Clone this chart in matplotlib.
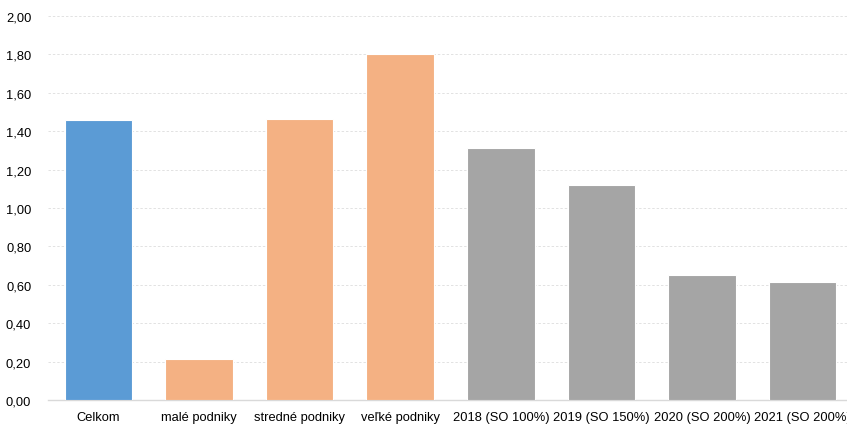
import matplotlib
matplotlib.use("Agg")
import matplotlib.pyplot as plt
from matplotlib.ticker import FuncFormatter, MultipleLocator

plt.rcParams['font.family'] = ['Liberation Sans', 'DejaVu Sans']

categories = ["Celkom", "malé podniky", "stredné podniky", "veľké podniky",
              "2018 (SO 100%)", "2019 (SO 150%)", "2020 (SO 200%)", "2021 (SO 200%)"]
values = [1.46, 0.215, 1.465, 1.80, 1.31, 1.12, 0.65, 0.615]
colors = ["#5B9BD5", "#F4B183", "#F4B183", "#F4B183",
          "#A5A5A5", "#A5A5A5", "#A5A5A5", "#A5A5A5"]

fig = plt.figure(figsize=(8.47, 4.27), dpi=100)
ax = fig.add_axes([48 / 847, 26 / 427, 805 / 847, 384 / 427])

x = range(len(categories))
ax.bar(x, values, width=0.67, color=colors, edgecolor="white", linewidth=0.8, zorder=3)

ax.set_xlim(-0.5, len(categories) - 0.5)
ax.set_ylim(0, 2.0)
ax.yaxis.set_major_locator(MultipleLocator(0.2))
ax.yaxis.set_major_formatter(FuncFormatter(lambda v, p: f"{v:.2f}".replace(".", ",")))
ax.grid(axis="y", color="#E2E2E2", linestyle=(0, (2.5, 2)), linewidth=0.7, zorder=0)

for side in ["top", "right", "left"]:
    ax.spines[side].set_visible(False)
ax.spines["bottom"].set_color("#D9D9D9")
ax.spines["bottom"].set_linewidth(1.0)

ax.set_xticks(list(x))
ax.set_xticklabels(categories)
ax.tick_params(axis="both", length=0, labelsize=9.3, colors="#000000")
ax.tick_params(axis="x", pad=8)
ax.tick_params(axis="y", pad=12)

fig.savefig("out.png", dpi=100)
